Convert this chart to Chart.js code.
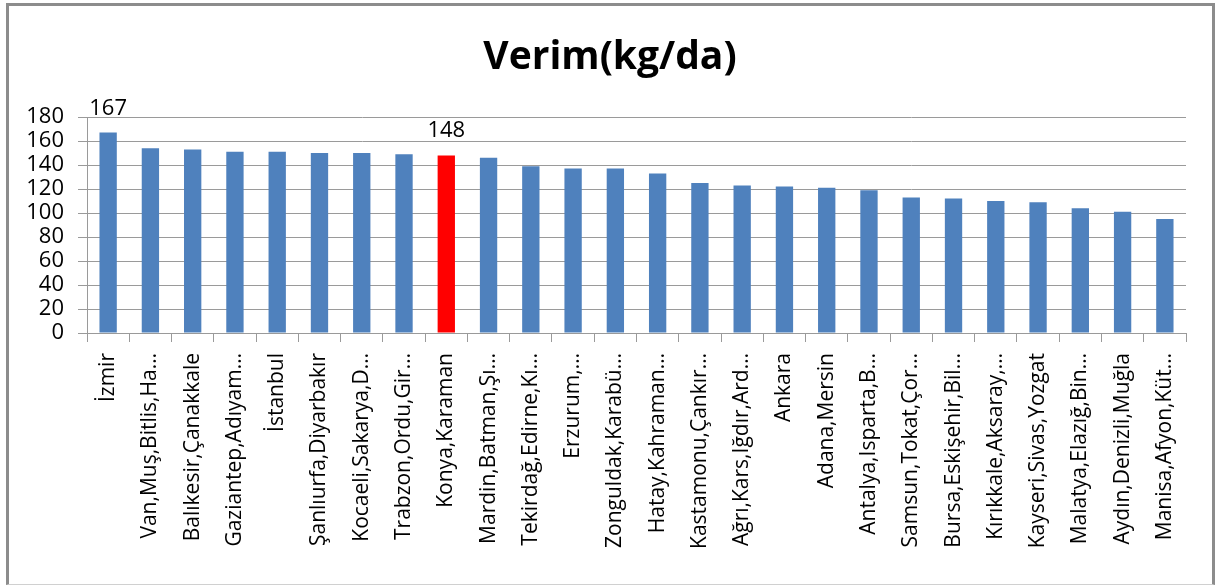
<!DOCTYPE html>
<html>
<head>
<meta charset="utf-8">
<script src="https://cdn.jsdelivr.net/npm/chart.js@4/dist/chart.umd.min.js"></script>
<style>
  body { margin: 0; background: #fff; }
  #wrap { position: relative; width: 1216px; height: 585px; }
  #frame {
    position: absolute; left: 6px; top: 3px; width: 1203px; height: 578px;
    border-left: 3px solid #8c8c8c; border-top: 3px solid #8c8c8c;
    border-right: 3px solid #8c8c8c; border-bottom: 1px solid #d0d0d0;
    pointer-events: none;
  }
</style>
</head>
<body>
<div id="wrap">
  <canvas id="chart" width="1216" height="585"></canvas>
  <div id="frame"></div>
</div>
<script>
// chart data
const chartTitle = "Verim(kg/da)";
const categories = [
  "İzmir", "Van,Muş,Bitlis,Ha…", "Balıkesir,Çanakkale", "Gaziantep,Adıyam…",
  "İstanbul", "Şanlıurfa,Diyarbakır", "Kocaeli,Sakarya,D…", "Trabzon,Ordu,Gir…",
  "Konya,Karaman", "Mardin,Batman,Şı…", "Tekirdağ,Edirne,Kı…", "Erzurum,…",
  "Zonguldak,Karabü…", "Hatay,Kahraman…", "Kastamonu,Çankır…", "Ağrı,Kars,Iğdır,Ard…",
  "Ankara", "Adana,Mersin", "Antalya,Isparta,B…", "Samsun,Tokat,Çor…",
  "Bursa,Eskişehir,Bil…", "Kırıkkale,Aksaray,…", "Kayseri,Sivas,Yozgat", "Malatya,Elazığ,Bin…",
  "Aydın,Denizli,Muğla", "Manisa,Afyon,Küt…"
];
const verim = [
  167, 154, 153, 151,
  151, 150, 150, 149,
  148, 146, 139, 137,
  137, 133, 125, 123,
  122, 121, 119, 113,
  112, 110, 109, 104,
  101, 95
];
const highlighted = ["Konya,Karaman"];
const labelled = ["İzmir", "Konya,Karaman"];
const yTicks = [0, 20, 40, 60, 80, 100, 120, 140, 160, 180];

// styles
const barBlue = "#4f81bd";
const barRed = "#ff0000";
const gridGray = "#9a9a9a";
const fontFamily = "'Open Sans', sans-serif";

// title centred on the whole frame
const frameTitle = {
  id: "frameTitle",
  afterDraw(chart) {
    const ctx = chart.ctx;
    ctx.save();
    ctx.font = "bold 39px " + fontFamily;
    ctx.fillStyle = "#000";
    ctx.textAlign = "center";
    ctx.textBaseline = "middle";
    ctx.fillText(chartTitle, 610, 58);
    ctx.restore();
  }
};

// value labels above chosen bars
const valueLabels = {
  id: "valueLabels",
  afterDatasetsDraw(chart) {
    const ctx = chart.ctx;
    const meta = chart.getDatasetMeta(0);
    ctx.save();
    ctx.font = "22px " + fontFamily;
    ctx.fillStyle = "#000";
    ctx.textAlign = "center";
    ctx.textBaseline = "alphabetic";
    categories.forEach((c, i) => {
      if (!labelled.includes(c)) return;
      const bar = meta.data[i];
      ctx.fillText(String(verim[i]), bar.x, bar.y - 18);
    });
    ctx.restore();
  }
};

new Chart(document.getElementById("chart"), {
  type: "bar",
  data: {
    labels: categories,
    datasets: [{
      data: verim,
      backgroundColor: categories.map(c => highlighted.includes(c) ? barRed : barBlue),
      barPercentage: 0.41,
      categoryPercentage: 1
    }]
  },
  options: {
    responsive: false,
    animation: false,
    layout: { padding: { left: 0, right: 30, top: 117, bottom: 0 } },
    plugins: {
      legend: { display: false },
      tooltip: { enabled: false },
      title: { display: false }
    },
    scales: {
      x: {
        afterFit(scale) { scale.height = 252; },
        border: { color: gridGray },
        grid: { offset: true, drawOnChartArea: false, color: gridGray, tickLength: 9 },
        ticks: {
          color: "#000",
          font: { family: fontFamily, size: 21 },
          minRotation: 90, maxRotation: 90,
          autoSkip: false,
          padding: 11
        }
      },
      y: {
        min: 0, max: 180,
        afterFit(scale) { scale.width = 87; },
        afterBuildTicks(scale) { scale.ticks = yTicks.map(v => ({ value: v })); },
        border: { color: gridGray },
        grid: { color: gridGray, tickLength: 9 },
        ticks: {
          color: "#000",
          font: { family: fontFamily, size: 22 },
          autoSkip: false,
          padding: 14
        }
      }
    }
  },
  plugins: [valueLabels, frameTitle]
});
</script>
</body>
</html>
